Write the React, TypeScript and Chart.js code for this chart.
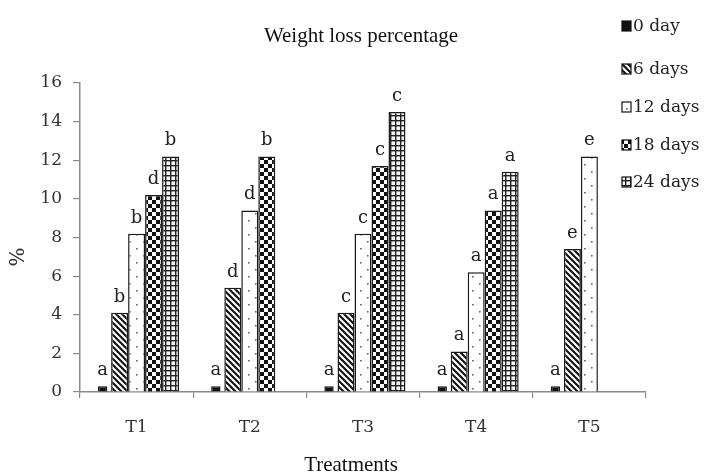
import { useEffect, useRef } from 'react';
import { Chart, registerables } from 'chart.js';

Chart.register(...registerables);

const chartTitle = 'Weight loss percentage';
const xTitle = 'Treatments';
const yTitle = '%';
const categories = ['T1', 'T2', 'T3', 'T4', 'T5'];
const seriesLabels = ['0 day', '6 days', '12 days', '18 days', '24 days'];
const day0 = [0.3, 0.3, 0.3, 0.3, 0.3];
const day6 = [4.1, 5.4, 4.1, 2.1, 7.4];
const day12 = [8.2, 9.4, 8.2, 6.2, 12.2];
const day18 = [10.2, 12.2, 11.7, 9.4, null];
const day24 = [12.2, null, 14.5, 11.4, null];
const letters0 = ['a', 'a', 'a', 'a', 'a'];
const letters6 = ['b', 'd', 'c', 'a', 'e'];
const letters12 = ['b', 'd', 'c', 'a', 'e'];
const letters18 = ['d', 'b', 'c', 'a', null];
const letters24 = ['b', null, 'c', 'a', null];
const yTicks = [0, 2, 4, 6, 8, 10, 12, 14, 16];

const seriesData = [day0, day6, day12, day18, day24];
const seriesLetters = [letters0, letters6, letters12, letters18, letters24];

function makeFill(kind: string): any {
  if (kind === 'solid') return '#111111';
  const c = document.createElement('canvas');
  const ctx = c.getContext('2d') as CanvasRenderingContext2D;
  if (kind === 'diag') {
    c.width = 6; c.height = 6;
    ctx.fillStyle = '#ffffff'; ctx.fillRect(0, 0, 6, 6);
    ctx.strokeStyle = '#151515'; ctx.lineWidth = 2.2;
    ctx.beginPath();
    ctx.moveTo(-1, -1); ctx.lineTo(7, 7);
    ctx.moveTo(-1, 5); ctx.lineTo(1, 7);
    ctx.moveTo(5, -1); ctx.lineTo(7, 1);
    ctx.stroke();
  } else if (kind === 'dots') {
    c.width = 14; c.height = 14;
    ctx.fillStyle = '#ffffff'; ctx.fillRect(0, 0, 14, 14);
    ctx.fillStyle = '#666666';
    ctx.fillRect(3, 3, 1.6, 1.6);
    ctx.fillRect(10, 10, 1.6, 1.6);
  } else if (kind === 'checker') {
    c.width = 8; c.height = 8;
    ctx.fillStyle = '#ffffff'; ctx.fillRect(0, 0, 8, 8);
    ctx.fillStyle = '#111111';
    ctx.fillRect(0, 0, 4, 4);
    ctx.fillRect(4, 4, 4, 4);
  } else if (kind === 'grid') {
    c.width = 5; c.height = 5;
    ctx.fillStyle = '#f6f6f6'; ctx.fillRect(0, 0, 5, 5);
    ctx.fillStyle = '#222222';
    ctx.fillRect(0, 0, 1.4, 5);
    ctx.fillRect(0, 0, 5, 1.4);
  }
  return ctx.createPattern(c, 'repeat');
}

const fillKinds = ['solid', 'diag', 'dots', 'checker', 'grid'];
const legendY = [26, 69, 107, 145, 182];

export default function App() {
  const ref = useRef<HTMLCanvasElement | null>(null);

  useEffect(() => {
    document.body.style.margin = '0';
    const canvas = ref.current;
    if (!canvas) return;
    const fills = fillKinds.map(makeFill);

    const annot = {
      id: 'annot',
      afterDraw(chart: any) {
        const ctx: CanvasRenderingContext2D = chart.ctx;
        ctx.save();
        // letters above bars
        ctx.fillStyle = '#222';
        ctx.font = '18px "DejaVu Serif"';
        ctx.textAlign = 'center';
        ctx.textBaseline = 'alphabetic';
        seriesLetters.forEach((arr, i) => {
          const meta = chart.getDatasetMeta(i);
          meta.data.forEach((el: any, j: number) => {
            const t = arr[j];
            const v = seriesData[i][j];
            if (t == null || v == null) return;
            ctx.fillText(t, el.x, el.y - 11);
          });
        });
        // legend
        ctx.textAlign = 'left';
        ctx.textBaseline = 'middle';
        ctx.font = '17px "DejaVu Serif"';
        seriesLabels.forEach((lab, i) => {
          const y = legendY[i];
          ctx.fillStyle = fills[i];
          ctx.fillRect(622, y - 5, 9, 10);
          ctx.strokeStyle = '#111';
          ctx.lineWidth = 1.2;
          ctx.strokeRect(622, y - 5, 9, 10);
          ctx.fillStyle = '#222';
          ctx.fillText(lab, 633, y + 1);
        });
        // titles
        ctx.textAlign = 'center';
        ctx.fillStyle = '#111';
        ctx.font = '21px "Liberation Serif"';
        ctx.fillText(chartTitle, 361, 36);
        ctx.font = '21px "Liberation Serif"';
        ctx.fillText(xTitle, 351, 465);
        ctx.translate(19, 257);
        ctx.rotate(-Math.PI / 2);
        ctx.fillStyle = '#333';
        ctx.font = '20px "DejaVu Serif"';
        ctx.fillText(yTitle, 0, 0);
        ctx.restore();
      },
    };

    const chart = new Chart(canvas, {
      type: 'bar',
      data: {
        labels: categories,
        datasets: seriesLabels.map((label, i) => ({
          label,
          data: seriesData[i] as any,
          backgroundColor: fills[i],
          borderColor: '#1a1a1a',
          borderWidth: 1.5,
          barPercentage: i === 0 ? 0.55 : 1,
          categoryPercentage: 0.75,
        })),
      },
      options: {
        animation: false,
        responsive: false,
        layout: { padding: { top: 83, right: 62, left: 0, bottom: 0 } },
        plugins: {
          legend: { display: false },
          title: { display: false },
          tooltip: { enabled: false },
        },
        scales: {
          x: {
            grid: { display: true, drawOnChartArea: false, tickLength: 6, color: '#8a8a8a', lineWidth: 1.2, offset: true },
            border: { display: true, color: '#8a8a8a', width: 1.5 },
            ticks: { font: { family: 'DejaVu Serif', size: 17 }, color: '#333', padding: 19 },
            afterFit: (s: any) => { s.height = 83; },
          },
          y: {
            min: yTicks[0],
            max: yTicks[yTicks.length - 1],
            afterBuildTicks: (s: any) => { s.ticks = yTicks.map((v) => ({ value: v })); },
            grid: { display: true, drawOnChartArea: false, tickLength: 7, color: '#8a8a8a', lineWidth: 1.2 },
            border: { display: true, color: '#8a8a8a', width: 1.5 },
            ticks: { font: { family: 'DejaVu Serif', size: 17 }, color: '#333', padding: 11 },
            afterFit: (s: any) => { s.width = 80; },
          },
        },
      },
      plugins: [annot],
    });
    return () => chart.destroy();
  }, []);

  return (
    <div style={{ width: 708, height: 475, background: '#fff' }}>
      <canvas ref={ref} width={708} height={475} style={{ display: 'block' }} />
    </div>
  );
}
